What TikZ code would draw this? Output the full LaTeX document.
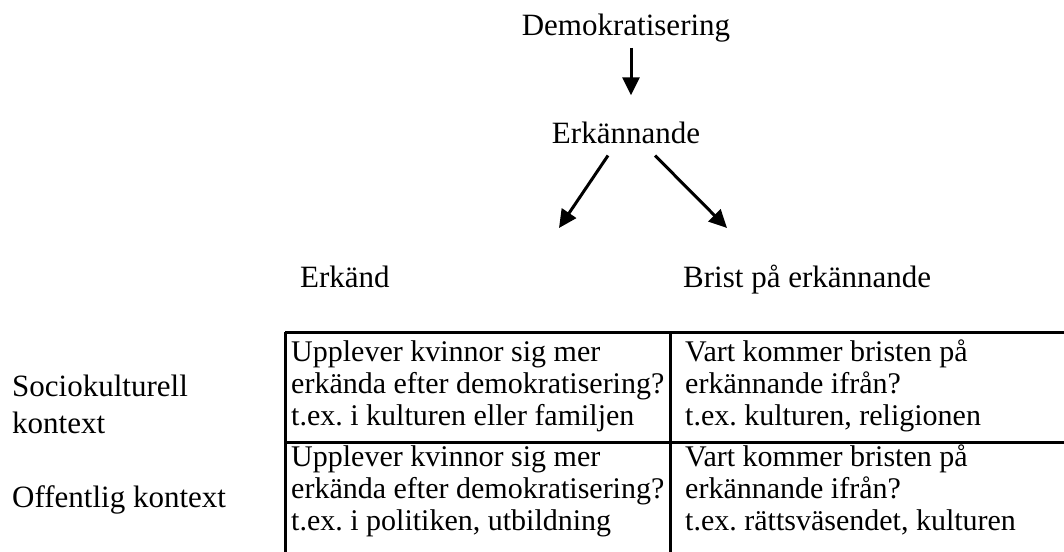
\documentclass[tikz,border=0pt]{standalone}
\usepackage{fontspec}
\setmainfont{Liberation Serif}
\usetikzlibrary{arrows.meta}
\tikzset{
  txt/.style={font=\fontsize{31}{32}\selectfont,inner sep=0pt},
  cell/.style={font=\fontsize{30}{32}\selectfont\frenchspacing,inner sep=0pt,align=left,anchor=north west},
  arr/.style={line width=3pt,-{Triangle[length=18pt,width=17pt]}},
  tbl/.style={line width=3pt}
}
\begin{document}
\begin{tikzpicture}[x=1pt,y=-1pt]
    \clip (0,0) rectangle (1064,551);

    \node[txt,anchor=base] (demo) at (626,36) {Demokratisering};
    \node[txt,anchor=base] (erk) at (626,143) {Erkännande};
    \node[txt,anchor=base west] (erkand) at (300,287) {Erkänd};
    \node[txt,anchor=base west] (brist) at (683,287) {Brist på erkännande};
    \coordinate (lt) at (559,228);
    \coordinate (rt) at (727,228);

    \draw[arr,shorten <=5pt,shorten >=26pt] ([xshift=5pt]demo.south) -- ([xshift=5pt]erk.north);
    \draw[arr] (erk.south) ++(-18,12) -- (lt);
    \draw[arr] (erk.south) ++(29,12) -- (rt);

    \draw[tbl] (285,332) -- (1070,332);
    \draw[tbl] (285,442) -- (1070,442);
    \draw[tbl] (285,332) -- (285,560);
    \draw[tbl] (670,332) -- (670,560);

    \node[txt,align=left,anchor=north west,font=\fontsize{31}{37}\selectfont] (soc) at (12,375) {Sociokulturell\\kontext};
    \node[txt,anchor=base west] (off) at (12,507) {Offentlig kontext};

    \node[cell] (c11) at (291,340)
      {Upplever kvinnor sig mer\\erkända efter demokratisering?\\t.ex. i kulturen eller familjen};
    \node[cell] (c12) at (685,340)
      {Vart kommer bristen på\\erkännande ifrån?\\t.ex. kulturen, religionen};
    \node[cell] (c21) at (291,445)
      {Upplever kvinnor sig mer\\erkända efter demokratisering?\\t.ex. i politiken, utbildning};
    \node[cell] (c22) at (685,445)
      {Vart kommer bristen på\\erkännande ifrån?\\t.ex. rättsväsendet, kulturen};
  \end{tikzpicture}
\end{document}
